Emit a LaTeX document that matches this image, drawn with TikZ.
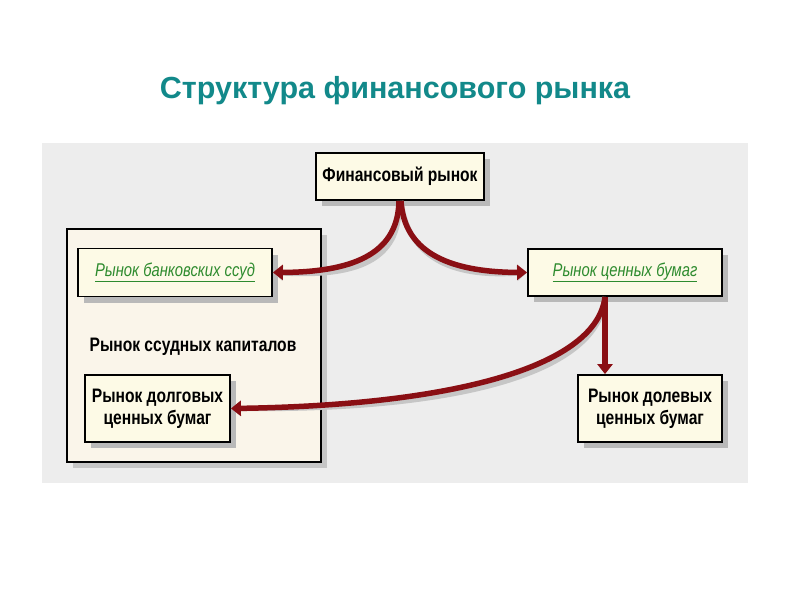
\documentclass[tikz,border=0pt]{standalone}
\usepackage{fontspec}
\setmainfont{Liberation Sans}
\newfontfamily\cond[FakeStretch=0.8]{Liberation Sans}
\usetikzlibrary{arrows.meta,shadows}
\definecolor{titlecol}{HTML}{12898A}
\definecolor{arrowred}{HTML}{8A0F14}
\definecolor{boxfill}{HTML}{FDFAE6}
\definecolor{panelfill}{HTML}{FAF5EA}
\definecolor{bgfill}{HTML}{EDEDED}
\definecolor{linkgreen}{HTML}{2E8B2E}
\tikzset{
  box/.style={draw=black, line width=1.8pt, fill=boxfill, inner sep=0pt, align=center,
    drop shadow={shadow xshift=6pt, shadow yshift=-6pt, fill=gray!55, opacity=1}},
  boldtxt/.style={font=\cond\bfseries\fontsize{19.5}{22}\selectfont},
  linktxt/.style={font=\cond\itshape\fontsize{18.5}{20}\selectfont, text=linkgreen},
  arr/.style={draw=arrowred, line width=5.5pt, -{Triangle[length=10pt,width=15pt]}},
  arrshadow/.style={draw=gray!45, line width=5pt, -{Triangle[length=10pt,width=15pt]}},
}
\begin{document}
\begin{tikzpicture}[x=1pt,y=-1pt]
\useasboundingbox (0,0) rectangle (800,600);
\fill[white] (0,0) rectangle (800,600);
% title
\node[text=titlecol, font=\bfseries\fontsize{30.5}{34}\selectfont] (title) at (395,91) {Структура финансового рынка};
% textured background
\fill[bgfill] (42,143) rectangle (748,483);
% outer panel
\node[draw=black, line width=1.3pt, fill=panelfill, minimum width=254pt, minimum height=233pt,
  drop shadow={shadow xshift=6pt, shadow yshift=-6pt, fill=gray!45, opacity=1}] (outer) at (194,345.5) {};
\node[boldtxt] (loanlbl) at (193,347) {Рынок ссудных капиталов};
% boxes
\node[box, minimum width=168pt, minimum height=47pt, boldtxt] (fin) at (400,176.5) {Финансовый рынок};
\node[box, minimum width=194pt, minimum height=48pt, linktxt] (bank) at (175,272.5) {\underline{Рынок банковских ссуд}};
\node[box, minimum width=194pt, minimum height=47pt, linktxt] (sec) at (625,272.5) {\underline{Рынок ценных бумаг}};
\node[box, minimum width=145pt, minimum height=67pt, boldtxt] (debt) at (157.5,408.5) {Рынок долговых\\ценных бумаг};
\node[box, minimum width=144pt, minimum height=67pt, boldtxt] (eq) at (650,408.5) {Рынок долевых\\ценных бумаг};
% connection points
\coordinate (splitL) at ([xshift=-1pt]fin.south);
\coordinate (splitR) at ([xshift=1pt]fin.south);
\coordinate (secout) at ([xshift=-20pt]sec.south);
% arrow shadows
\begin{scope}[shift={(4,6)}]
\draw[arrshadow] (splitL) .. controls (398,250) and (360,272) .. (bank.east);
\draw[arrshadow] (splitR) .. controls (404,250) and (445,272) .. (sec.west);
\draw[arrshadow] (secout) .. controls (597,365) and (460,405) .. (debt.east);
\end{scope}
% arrows
\draw[arr] (splitL) .. controls (398,250) and (360,272) .. (bank.east);
\draw[arr] (splitR) .. controls (404,250) and (445,272) .. (sec.west);
\draw[arr] (secout) -- (secout |- eq.north);
\draw[arr] (secout) .. controls (597,365) and (460,405) .. (debt.east);
\end{tikzpicture}
\end{document}
